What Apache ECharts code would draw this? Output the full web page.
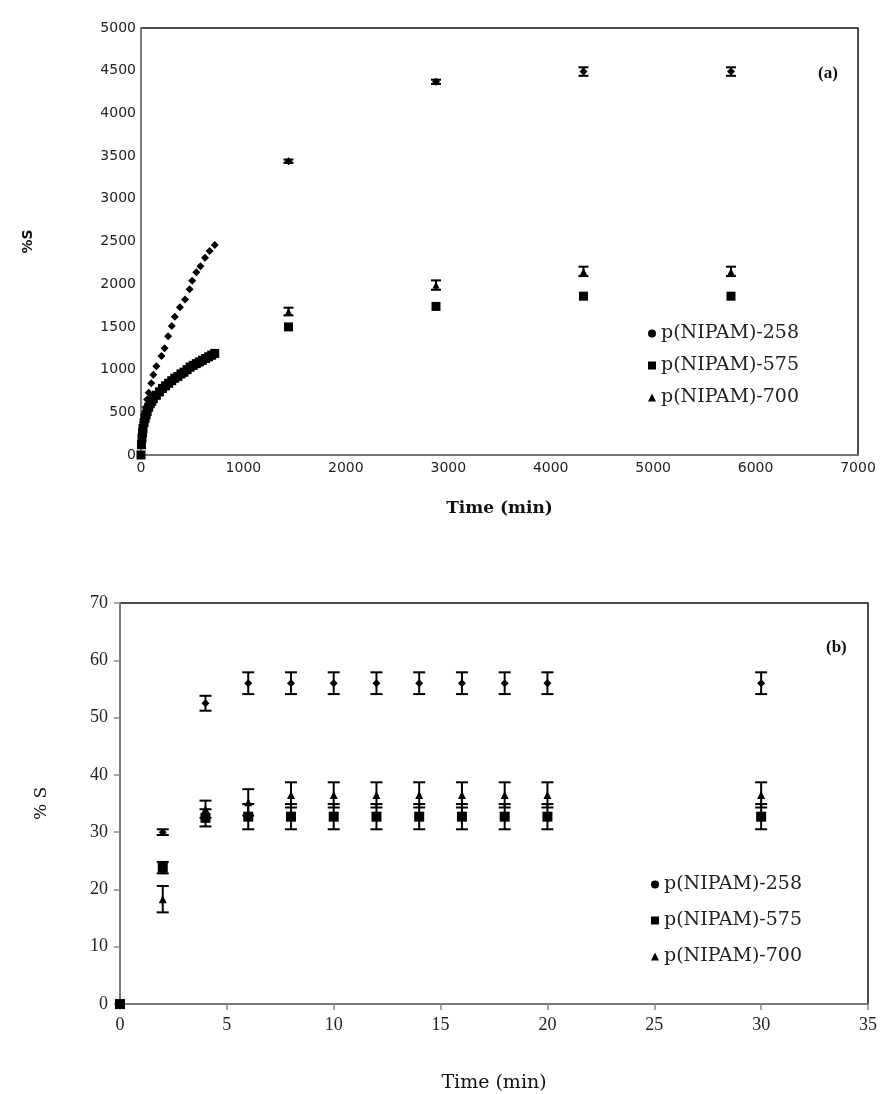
<!DOCTYPE html>
<html>
<head>
<meta charset="utf-8">
<script src="https://cdn.jsdelivr.net/npm/echarts@6/dist/echarts.min.js"></script>
<style>
html,body{margin:0;padding:0;background:#fff;}
#chart{width:886px;height:1094px;}
</style>
</head>
<body>
<div id="chart"></div>
<script>
// ---------- DATA: chart (a) ----------
const seriesNames = ['p(NIPAM)-258', 'p(NIPAM)-575', 'p(NIPAM)-700'];

const aTime258 = [0, 5, 10, 20, 30, 45, 60, 75, 100, 120, 150, 200, 230, 265, 300, 330, 380, 430, 475, 500, 540, 580, 625, 670, 720, 1440, 2880, 4320, 5760];
const aS258    = [0, 150, 250, 380, 470, 560, 650, 730, 840, 940, 1040, 1160, 1250, 1390, 1510, 1620, 1730, 1820, 1940, 2040, 2140, 2210, 2310, 2390, 2460, 3440, 4370, 4490, 4490];
const aErr258  = [0, 0, 0, 0, 0, 0, 0, 0, 0, 0, 0, 0, 0, 0, 0, 0, 0, 0, 0, 0, 0, 0, 0, 0, 0, 20, 25, 50, 50];

const aTime575 = [0, 5, 10, 15, 20, 30, 40, 50, 60, 75, 90, 105, 120, 150, 180, 210, 240, 270, 300, 330, 360, 390, 420, 450, 480, 510, 540, 570, 600, 630, 660, 690, 720, 1440, 2880, 4320, 5760];
const aS575    = [0, 120, 200, 260, 310, 380, 430, 470, 510, 560, 600, 630, 660, 700, 740, 780, 810, 840, 870, 900, 920, 950, 970, 1000, 1030, 1050, 1070, 1090, 1110, 1130, 1150, 1170, 1190, 1500, 1740, 1860, 1860];
const aErr575  = [0, 0, 0, 0, 0, 0, 0, 0, 0, 0, 0, 0, 0, 0, 0, 0, 0, 0, 0, 0, 0, 0, 0, 0, 0, 0, 0, 0, 0, 0, 0, 0, 0, 0, 0, 0, 0];

const aTime700 = [0, 5, 10, 15, 20, 30, 40, 50, 60, 75, 90, 105, 120, 150, 180, 210, 240, 270, 300, 330, 360, 390, 420, 450, 480, 510, 540, 570, 600, 630, 660, 690, 720, 1440, 2880, 4320, 5760];
const aS700    = [0, 110, 190, 250, 300, 370, 420, 460, 500, 550, 590, 620, 650, 690, 730, 770, 800, 830, 860, 890, 910, 940, 960, 990, 1020, 1040, 1060, 1080, 1100, 1120, 1140, 1160, 1180, 1680, 1990, 2150, 2150];
const aErr700  = [0, 0, 0, 0, 0, 0, 0, 0, 0, 0, 0, 0, 0, 0, 0, 0, 0, 0, 0, 0, 0, 0, 0, 0, 0, 0, 0, 0, 0, 0, 0, 0, 0, 45, 55, 55, 55];

// ---------- DATA: chart (b) ----------
const bTime   = [0, 2, 4, 6, 8, 10, 12, 14, 16, 18, 20, 30];
const bS258   = [0, 30, 52.5, 56, 56, 56, 56, 56, 56, 56, 56, 56];
const bErr258 = [0, 0.5, 1.3, 1.9, 1.9, 1.9, 1.9, 1.9, 1.9, 1.9, 1.9, 1.9];
const bS575   = [0, 23.8, 32.5, 32.7, 32.7, 32.7, 32.7, 32.7, 32.7, 32.7, 32.7, 32.7];
const bErr575 = [0, 1, 1.5, 2.2, 2.2, 2.2, 2.2, 2.2, 2.2, 2.2, 2.2, 2.2];
const bS700   = [0, 18.3, 34, 35.2, 36.5, 36.5, 36.5, 36.5, 36.5, 36.5, 36.5, 36.5];
const bErr700 = [0, 2.3, 1.5, 2.3, 2.2, 2.2, 2.2, 2.2, 2.2, 2.2, 2.2, 2.2];

// axis ticks
const aXMax = 7000, aXStep = 1000, aYMax = 5000, aYStep = 500;
const bXMax = 35, bXStep = 5, bYMax = 70, bYStep = 10;

// ---------- helpers ----------
function pairs(t, v) { return t.map((x, i) => [x, v[i]]); }
function plain(v) { return String(v); }

function errSeries(id, axis, t, v, e, cap) {
  const data = t.map((x, i) => [x, v[i], e[i]]).filter(d => d[2] > 0);
  return {
    type: 'custom', id: id, xAxisIndex: axis, yAxisIndex: axis, silent: true, z: 4,
    data: data,
    renderItem: function (params, api) {
      const x = api.value(0), y = api.value(1), er = api.value(2);
      const p1 = api.coord([x, y + er]);
      const p2 = api.coord([x, y - er]);
      const st = { stroke: '#000', lineWidth: 2 };
      return {
        type: 'group',
        children: [
          { type: 'line', shape: { x1: p1[0], y1: p1[1], x2: p2[0], y2: p2[1] }, style: st },
          { type: 'line', shape: { x1: p1[0] - cap, y1: p1[1], x2: p1[0] + cap, y2: p1[1] }, style: st },
          { type: 'line', shape: { x1: p2[0] - cap, y1: p2[1], x2: p2[0] + cap, y2: p2[1] }, style: st }
        ]
      };
    }
  };
}

const serif = '"Liberation Serif", "Times New Roman", serif';
const wideSerif = '"DejaVu Serif", "Liberation Serif", serif';
const sans = '"DejaVu Sans", Verdana, sans-serif';

const chart = echarts.init(document.getElementById('chart'), null, { renderer: 'canvas' });

const option = {
  backgroundColor: '#ffffff',
  animation: false,
  grid: [
    { left: 141, right: 28, top: 28, height: 427, show: true, borderColor: '#111', borderWidth: 1.5, backgroundColor: 'transparent' },
    { left: 120, right: 18, top: 603, height: 404, show: true, borderColor: '#111', borderWidth: 1.5, backgroundColor: 'transparent' }
  ],
  xAxis: [
    {
      gridIndex: 0, type: 'value', min: 0, max: aXMax, interval: aXStep,
      name: 'Time (min)', nameLocation: 'middle', nameGap: 45,
      nameTextStyle: { fontFamily: wideSerif, fontWeight: 'bold', fontSize: 17, color: '#111' },
      axisLine: { show: true, onZero: false, lineStyle: { color: '#888', width: 1.5 } },
      axisTick: { show: false },
      axisLabel: { fontFamily: sans, fontSize: 14, color: '#222', margin: 6, formatter: plain },
      splitLine: { show: false }
    },
    {
      gridIndex: 1, type: 'value', min: 0, max: bXMax, interval: bXStep,
      name: 'Time (min)', nameLocation: 'middle', nameGap: 70,
      nameTextStyle: { fontFamily: wideSerif, fontSize: 19, color: '#111' },
      axisLine: { show: true, onZero: false, lineStyle: { color: '#888', width: 1.5 } },
      axisTick: { show: true, inside: false, length: 6, lineStyle: { color: '#888', width: 1.5 } },
      axisLabel: { fontFamily: serif, fontSize: 18, color: '#222', margin: 12, formatter: plain },
      splitLine: { show: false }
    }
  ],
  yAxis: [
    {
      gridIndex: 0, type: 'value', min: 0, max: aYMax, interval: aYStep,
      name: '%S', nameLocation: 'middle', nameGap: 106, nameRotate: 90,
      nameTextStyle: { fontFamily: sans, fontWeight: 'bold', fontSize: 14, color: '#111' },
      axisLine: { show: true, onZero: false, lineStyle: { color: '#888', width: 1.5 } },
      axisTick: { show: false },
      axisLabel: { fontFamily: sans, fontSize: 14, color: '#222', margin: 5, formatter: plain },
      splitLine: { show: false }
    },
    {
      gridIndex: 1, type: 'value', min: 0, max: bYMax, interval: bYStep,
      name: '% S', nameLocation: 'middle', nameGap: 70, nameRotate: 90,
      nameTextStyle: { fontFamily: wideSerif, fontSize: 17, color: '#111' },
      axisLine: { show: true, onZero: false, lineStyle: { color: '#888', width: 1.5 } },
      axisTick: { show: true, inside: false, length: 6, lineStyle: { color: '#888', width: 1.5 } },
      axisLabel: { fontFamily: serif, fontSize: 18, color: '#222', margin: 12, formatter: plain },
      splitLine: { show: false }
    }
  ],
  legend: [
    {
      orient: 'vertical', left: 648, top: 324, itemGap: 13, itemWidth: 8, itemHeight: 8, padding: 0,
      textStyle: { fontFamily: wideSerif, fontSize: 19, color: '#222' },
      data: [
        { name: seriesNames[0], icon: 'circle' },
        { name: seriesNames[1], icon: 'rect' },
        { name: seriesNames[2], icon: 'triangle' }
      ],
      selectedMode: false
    },
    {
      orient: 'vertical', left: 651, top: 875, itemGap: 17, itemWidth: 8, itemHeight: 8, padding: 0,
      textStyle: { fontFamily: wideSerif, fontSize: 19, color: '#222' },
      data: [
        { name: seriesNames[0], icon: 'circle' },
        { name: seriesNames[1], icon: 'rect' },
        { name: seriesNames[2], icon: 'triangle' }
      ],
      selectedMode: false
    }
  ],
  graphic: [
    { type: 'text', left: 818, top: 65, style: { text: '(a)', font: 'bold 17px "Liberation Serif", serif', fill: '#111' } },
    { type: 'text', left: 826, top: 639, style: { text: '(b)', font: 'bold 17px "Liberation Serif", serif', fill: '#111' } }
  ],
  series: [
    // chart (a)
    { type: 'scatter', name: seriesNames[0], xAxisIndex: 0, yAxisIndex: 0, symbol: 'diamond', symbolSize: 8, itemStyle: { color: '#000', opacity: 1 }, data: pairs(aTime258, aS258), z: 3 },
    { type: 'scatter', name: seriesNames[1], xAxisIndex: 0, yAxisIndex: 0, symbol: 'rect', symbolSize: 9, itemStyle: { color: '#000', opacity: 1 }, data: pairs(aTime575, aS575), z: 3 },
    { type: 'scatter', name: seriesNames[2], xAxisIndex: 0, yAxisIndex: 0, symbol: 'triangle', symbolSize: 7, itemStyle: { color: '#000', opacity: 1 }, data: pairs(aTime700, aS700), z: 3 },
    errSeries('ea258', 0, aTime258, aS258, aErr258, 5),
    errSeries('ea575', 0, aTime575, aS575, aErr575, 5),
    errSeries('ea700', 0, aTime700, aS700, aErr700, 5),
    // chart (b)
    { type: 'scatter', name: seriesNames[0], xAxisIndex: 1, yAxisIndex: 1, symbol: 'diamond', symbolSize: 8, itemStyle: { color: '#000', opacity: 1 }, data: pairs(bTime, bS258), z: 3 },
    { type: 'scatter', name: seriesNames[1], xAxisIndex: 1, yAxisIndex: 1, symbol: 'rect', symbolSize: 10, itemStyle: { color: '#000', opacity: 1 }, data: pairs(bTime, bS575), z: 3 },
    { type: 'scatter', name: seriesNames[2], xAxisIndex: 1, yAxisIndex: 1, symbol: 'triangle', symbolSize: 8, itemStyle: { color: '#000', opacity: 1 }, data: pairs(bTime, bS700), z: 3 },
    errSeries('eb258', 1, bTime, bS258, bErr258, 6),
    errSeries('eb575', 1, bTime, bS575, bErr575, 6),
    errSeries('eb700', 1, bTime, bS700, bErr700, 6)
  ]
};

chart.setOption(option);
</script>
</body>
</html>
